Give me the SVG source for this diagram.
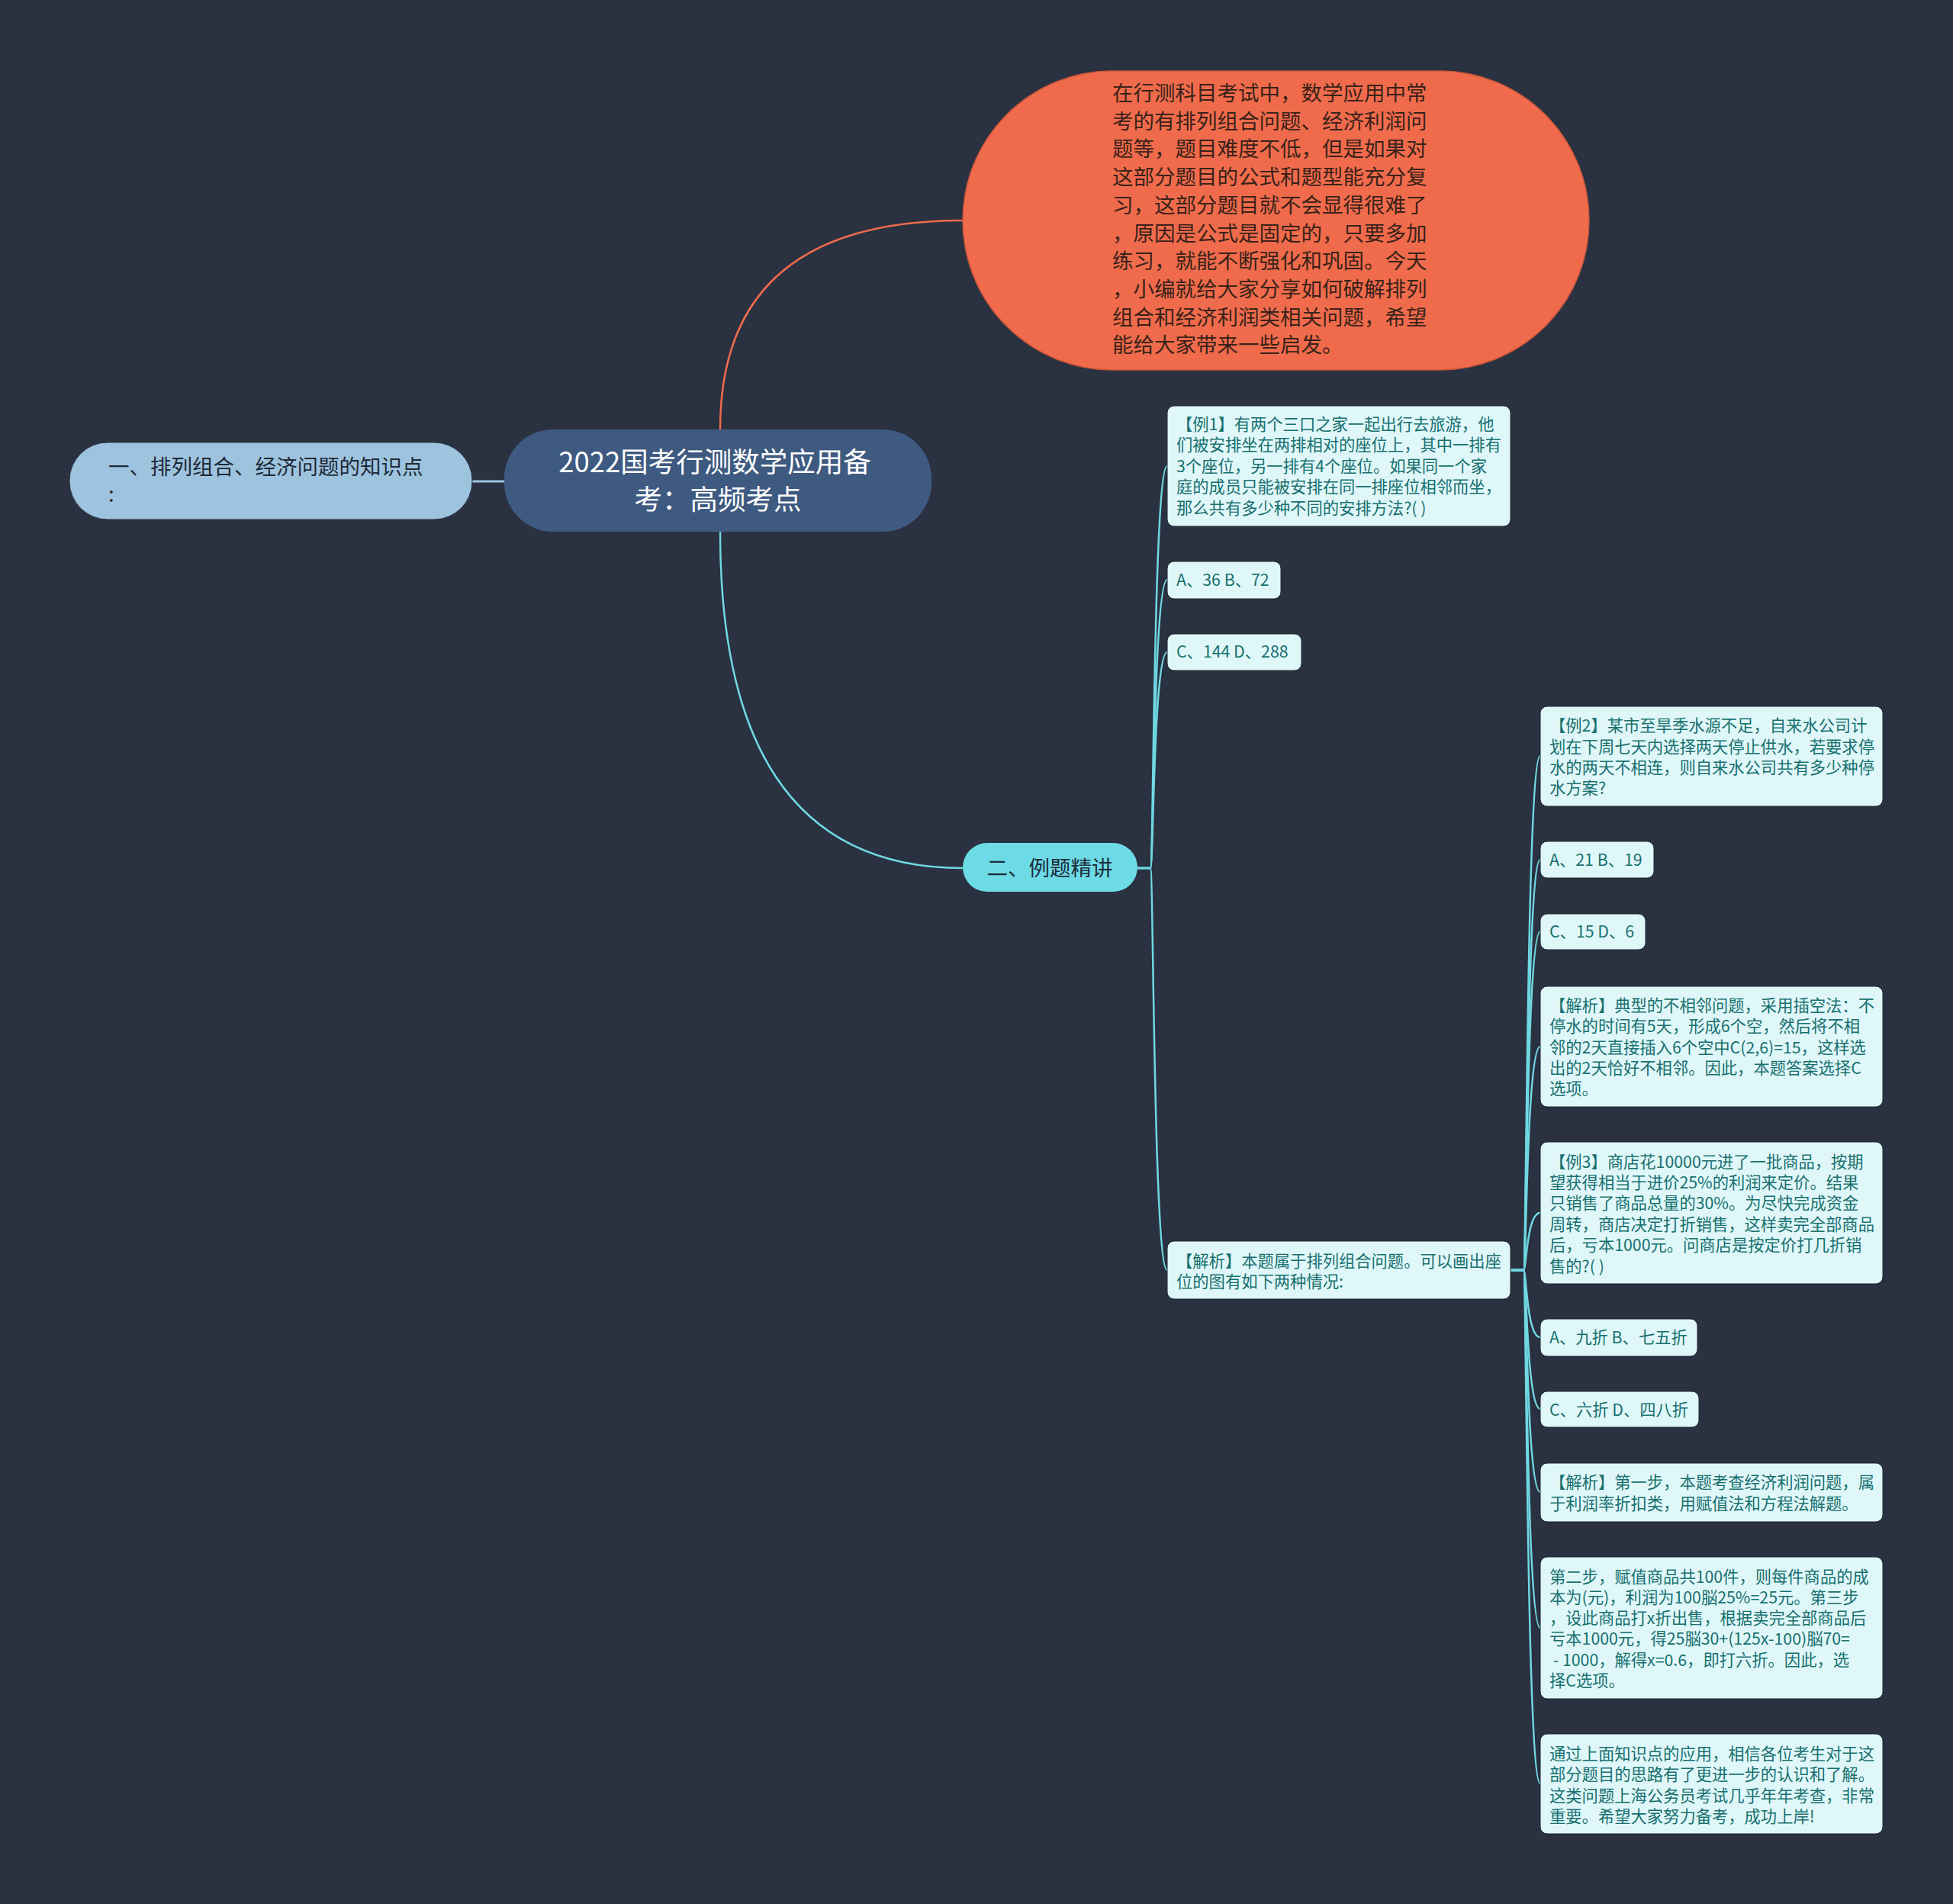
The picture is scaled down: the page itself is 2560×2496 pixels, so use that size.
<svg xmlns="http://www.w3.org/2000/svg" width="2560" height="2496" viewBox="0 0 2560 2496">
<style>
text{font-family:"Noto Sans CJK SC","Noto Sans",sans-serif;}
.leaf rect{fill:#e0f7f9;stroke:#1c2632;stroke-width:1;}
.leaf text{font-size:21.3px;fill:#17706f;}
.c-cyan{fill:none;stroke:#6fd8e2;stroke-width:2.5;}
.c-org{fill:none;stroke:#ef6b4c;stroke-width:2.5;}
.c-blue{fill:none;stroke:#9dc3df;stroke-width:3;}
.big{font-size:27.5px;}
</style>
<rect width="2560" height="2496" fill="#2a3140"/>
<g id="connectors">
<path class="c-blue" d="M619,631 L661,631"/>
<path class="c-org" d="M944,563 Q944,289 1262,289"/>
<path class="c-cyan" d="M944,697 Q944,1138 1262,1138"/>
<path class="c-cyan" d="M1491,1138 L1508,1138 C1512,1138 1512,611 1530,611"/>
<path class="c-cyan" d="M1491,1138 L1508,1138 C1512,1138 1512,760 1530,760"/>
<path class="c-cyan" d="M1491,1138 L1508,1138 C1512,1138 1512,855 1530,855"/>
<path class="c-cyan" d="M1491,1138 L1508,1138 C1512,1138 1512,1665 1530,1665"/>
<path class="c-cyan" d="M1980,1665 L1997,1665 C2001,1665 2001,991 2019,991"/>
<path class="c-cyan" d="M1980,1665 L1997,1665 C2001,1665 2001,1127 2019,1127"/>
<path class="c-cyan" d="M1980,1665 L1997,1665 C2001,1665 2001,1221 2019,1221"/>
<path class="c-cyan" d="M1980,1665 L1997,1665 C2001,1665 2001,1372 2019,1372"/>
<path class="c-cyan" d="M1980,1665 L1997,1665 C2001,1665 2001,1590 2019,1590"/>
<path class="c-cyan" d="M1980,1665 L1997,1665 C2001,1665 2001,1753 2019,1753"/>
<path class="c-cyan" d="M1980,1665 L1997,1665 C2001,1665 2001,1847 2019,1847"/>
<path class="c-cyan" d="M1980,1665 L1997,1665 C2001,1665 2001,1956 2019,1956"/>
<path class="c-cyan" d="M1980,1665 L1997,1665 C2001,1665 2001,2134 2019,2134"/>
<path class="c-cyan" d="M1980,1665 L1997,1665 C2001,1665 2001,2338 2019,2338"/>
</g>
<g id="intro">
<rect x="1262" y="93" width="821" height="392" rx="196" ry="196" fill="#ef6b4c" stroke="#c9553b" stroke-width="1.5"/>
<text class="big" fill="#3a2218">
<tspan x="1458" y="132">在行测科目考试中，数学应用中常</tspan>
<tspan x="1458" y="169">考的有排列组合问题、经济利润问</tspan>
<tspan x="1458" y="205">题等，题目难度不低，但是如果对</tspan>
<tspan x="1458" y="242">这部分题目的公式和题型能充分复</tspan>
<tspan x="1458" y="279">习，这部分题目就不会显得很难了</tspan>
<tspan x="1458" y="316">，原因是公式是固定的，只要多加</tspan>
<tspan x="1458" y="352">练习，就能不断强化和巩固。今天</tspan>
<tspan x="1458" y="389">，小编就给大家分享如何破解排列</tspan>
<tspan x="1458" y="426">组合和经济利润类相关问题，希望</tspan>
<tspan x="1458" y="462">能给大家带来一些启发。</tspan>
</text>
</g>
<g id="root">
<rect x="661" y="563" width="560" height="134" rx="64" fill="#3e5a80"/>
<text font-size="36.5" fill="#ffffff" text-anchor="middle">
<tspan x="941" y="619">2022国考行测数学应用备</tspan>
<tspan x="941" y="668">考：高频考点</tspan>
</text>
</g>
<g id="left">
<rect x="91" y="580" width="528" height="101" rx="50" fill="#9dc3df" stroke="#2a3140" stroke-width="1"/>
<text class="big" fill="#1f2a36">
<tspan x="142" y="622">一、排列组合、经济问题的知识点</tspan>
<tspan x="142" y="658">:</tspan>
</text>
</g>
<g id="sec2">
<rect x="1262" y="1105" width="229" height="64" rx="32" fill="#6ddbe6"/>
<text class="big" fill="#1d2b3a" text-anchor="middle" x="1376" y="1148">二、例题精讲</text>
</g>
<g id="ex1" class="leaf">
<rect x="1530" y="532" width="450" height="158" rx="9"/>
<text>
<tspan x="1542" y="564">【例1】有两个三口之家一起出行去旅游，他</tspan>
<tspan x="1542" y="591">们被安排坐在两排相对的座位上，其中一排有</tspan>
<tspan x="1542" y="619">3个座位，另一排有4个座位。如果同一个家</tspan>
<tspan x="1542" y="646">庭的成员只能被安排在同一排座位相邻而坐，</tspan>
<tspan x="1542" y="674">那么共有多少种不同的安排方法?( )</tspan>
</text>
</g>
<g id="ex1a" class="leaf">
<rect x="1530" y="736" width="149" height="49" rx="9"/>
<text x="1542" y="768">A、36 B、72</text>
</g>
<g id="ex1c" class="leaf">
<rect x="1530" y="831" width="176" height="48" rx="9"/>
<text x="1542" y="862">C、144 D、288</text>
</g>
<g id="ex1s" class="leaf">
<rect x="1530" y="1627" width="450" height="76" rx="9"/>
<text>
<tspan x="1542" y="1661">【解析】本题属于排列组合问题。可以画出座</tspan>
<tspan x="1542" y="1688">位的图有如下两种情况:</tspan>
</text>
</g>
<g id="ex2" class="leaf">
<rect x="2019" y="926" width="449" height="131" rx="9"/>
<text>
<tspan x="2031" y="959">【例2】某市至旱季水源不足，自来水公司计</tspan>
<tspan x="2031" y="987">划在下周七天内选择两天停止供水，若要求停</tspan>
<tspan x="2031" y="1014">水的两天不相连，则自来水公司共有多少种停</tspan>
<tspan x="2031" y="1041">水方案?</tspan>
</text>
</g>
<g id="ex2a" class="leaf">
<rect x="2019" y="1103" width="149" height="48" rx="9"/>
<text x="2031" y="1135">A、21 B、19</text>
</g>
<g id="ex2c" class="leaf">
<rect x="2019" y="1198" width="138" height="47" rx="9"/>
<text x="2031" y="1229">C、15 D、6</text>
</g>
<g id="ex2s" class="leaf">
<rect x="2019" y="1293" width="449" height="158" rx="9"/>
<text>
<tspan x="2031" y="1326">【解析】典型的不相邻问题，采用插空法：不</tspan>
<tspan x="2031" y="1353">停水的时间有5天，形成6个空，然后将不相</tspan>
<tspan x="2031" y="1381">邻的2天直接插入6个空中C(2,6)=15，这样选</tspan>
<tspan x="2031" y="1408">出的2天恰好不相邻。因此，本题答案选择C</tspan>
<tspan x="2031" y="1435">选项。</tspan>
</text>
</g>
<g id="ex3" class="leaf">
<rect x="2019" y="1497" width="449" height="186" rx="9"/>
<text>
<tspan x="2031" y="1531">【例3】商店花10000元进了一批商品，按期</tspan>
<tspan x="2031" y="1558">望获得相当于进价25%的利润来定价。结果</tspan>
<tspan x="2031" y="1585">只销售了商品总量的30%。为尽快完成资金</tspan>
<tspan x="2031" y="1613">周转，商店决定打折销售，这样卖完全部商品</tspan>
<tspan x="2031" y="1640">后，亏本1000元。问商店是按定价打几折销</tspan>
<tspan x="2031" y="1668">售的?( )</tspan>
</text>
</g>
<g id="ex3a" class="leaf">
<rect x="2019" y="1729" width="206" height="49" rx="9"/>
<text x="2031" y="1761">A、九折 B、七五折</text>
</g>
<g id="ex3c" class="leaf">
<rect x="2019" y="1824" width="208" height="47" rx="9"/>
<text x="2031" y="1856">C、六折 D、四八折</text>
</g>
<g id="ex3s1" class="leaf">
<rect x="2019" y="1918" width="449" height="77" rx="9"/>
<text>
<tspan x="2031" y="1951">【解析】第一步，本题考查经济利润问题，属</tspan>
<tspan x="2031" y="1979">于利润率折扣类，用赋值法和方程法解题。</tspan>
</text>
</g>
<g id="ex3s2" class="leaf">
<rect x="2019" y="2041" width="449" height="186" rx="9"/>
<text>
<tspan x="2031" y="2075">第二步，赋值商品共100件，则每件商品的成</tspan>
<tspan x="2031" y="2102">本为(元)，利润为100脳25%=25元。第三步</tspan>
<tspan x="2031" y="2129">，设此商品打x折出售，根据卖完全部商品后</tspan>
<tspan x="2031" y="2156">亏本1000元，得25脳30+(125x-100)脳70=</tspan>
<tspan x="2031" y="2184">&#160;- 1000，解得x=0.6，即打六折。因此，选</tspan>
<tspan x="2031" y="2211">择C选项。</tspan>
</text>
</g>
<g id="end" class="leaf">
<rect x="2019" y="2273" width="449" height="131" rx="9"/>
<text>
<tspan x="2031" y="2307">通过上面知识点的应用，相信各位考生对于这</tspan>
<tspan x="2031" y="2334">部分题目的思路有了更进一步的认识和了解。</tspan>
<tspan x="2031" y="2362">这类问题上海公务员考试几乎年年考查，非常</tspan>
<tspan x="2031" y="2389">重要。希望大家努力备考，成功上岸!</tspan>
</text>
</g>
</svg>
